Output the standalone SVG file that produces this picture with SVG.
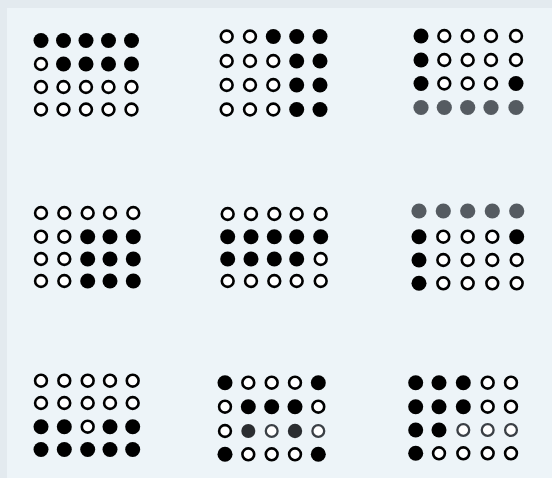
<svg xmlns="http://www.w3.org/2000/svg" width="552" height="478" viewBox="0 0 552 478">
<style>
.f{fill:#000}
.o{fill:#fff;stroke:#000;stroke-width:2.6}
.g{fill:#555b61}
.d{fill:#2a2d30}
.og{fill:#fff;stroke:#3a3f45;stroke-width:2.3}
</style>
<rect x="0" y="0" width="552" height="478" fill="#e3eaef"/>
<rect x="7" y="8" width="545" height="470" fill="#edf4f8"/>
<g id="connectors"/>
<g id="grid1">
<circle class="f" cx="41" cy="40.5" r="7.5"/><circle class="f" cx="63.5" cy="40.5" r="7.5"/><circle class="f" cx="86" cy="40.5" r="7.5"/><circle class="f" cx="108.5" cy="40.5" r="7.5"/><circle class="f" cx="131.5" cy="40.5" r="7.5"/>
<circle class="o" cx="41" cy="64" r="5.9"/><circle class="f" cx="63.5" cy="64" r="7.5"/><circle class="f" cx="86" cy="64" r="7.5"/><circle class="f" cx="108.5" cy="64" r="7.5"/><circle class="f" cx="131.5" cy="64" r="7.5"/>
<circle class="o" cx="41" cy="87" r="5.9"/><circle class="o" cx="63.5" cy="87" r="5.9"/><circle class="o" cx="86" cy="87" r="5.9"/><circle class="o" cx="108.5" cy="87" r="5.9"/><circle class="o" cx="131.5" cy="87" r="5.9"/>
<circle class="o" cx="41" cy="109.5" r="5.9"/><circle class="o" cx="63.5" cy="109.5" r="5.9"/><circle class="o" cx="86" cy="109.5" r="5.9"/><circle class="o" cx="108.5" cy="109.5" r="5.9"/><circle class="o" cx="131.5" cy="109.5" r="5.9"/>
</g>
<g id="grid2">
<circle class="o" cx="226.7" cy="36.5" r="5.9"/><circle class="o" cx="250" cy="36.5" r="5.9"/><circle class="f" cx="273.3" cy="36.5" r="7.5"/><circle class="f" cx="296.7" cy="36.5" r="7.5"/><circle class="f" cx="320" cy="36.5" r="7.5"/>
<circle class="o" cx="226.7" cy="61" r="5.9"/><circle class="o" cx="250" cy="61" r="5.9"/><circle class="o" cx="273.3" cy="61" r="5.9"/><circle class="f" cx="296.7" cy="61" r="7.5"/><circle class="f" cx="320" cy="61" r="7.5"/>
<circle class="o" cx="226.7" cy="85" r="5.9"/><circle class="o" cx="250" cy="85" r="5.9"/><circle class="o" cx="273.3" cy="85" r="5.9"/><circle class="f" cx="296.7" cy="85" r="7.5"/><circle class="f" cx="320" cy="85" r="7.5"/>
<circle class="o" cx="226.7" cy="109.5" r="5.9"/><circle class="o" cx="250" cy="109.5" r="5.9"/><circle class="o" cx="273.3" cy="109.5" r="5.9"/><circle class="f" cx="296.7" cy="109.5" r="7.5"/><circle class="f" cx="320" cy="109.5" r="7.5"/>
</g>
<g id="grid3">
<circle class="f" cx="421" cy="36" r="7.5"/><circle class="o" cx="444.3" cy="36" r="5.9"/><circle class="o" cx="467.7" cy="36" r="5.9"/><circle class="o" cx="491" cy="36" r="5.9"/><circle class="o" cx="516" cy="36" r="5.9"/>
<circle class="f" cx="421" cy="60" r="7.5"/><circle class="o" cx="444.3" cy="60" r="5.9"/><circle class="o" cx="467.7" cy="60" r="5.9"/><circle class="o" cx="491" cy="60" r="5.9"/><circle class="o" cx="516" cy="60" r="5.9"/>
<circle class="f" cx="421" cy="83.5" r="7.5"/><circle class="o" cx="444.3" cy="83.5" r="5.9"/><circle class="o" cx="467.7" cy="83.5" r="5.9"/><circle class="o" cx="491" cy="83.5" r="5.9"/><circle class="f" cx="516" cy="83.5" r="7.5"/>
<circle class="g" cx="421" cy="107.5" r="7.6"/><circle class="g" cx="444.3" cy="107.5" r="7.6"/><circle class="g" cx="467.7" cy="107.5" r="7.6"/><circle class="g" cx="491" cy="107.5" r="7.6"/><circle class="g" cx="516" cy="107.5" r="7.6"/>
</g>
<g id="grid4">
<circle class="o" cx="41" cy="213" r="5.9"/><circle class="o" cx="64.3" cy="213" r="5.9"/><circle class="o" cx="87.7" cy="213" r="5.9"/><circle class="o" cx="110" cy="213" r="5.9"/><circle class="o" cx="133.3" cy="213" r="5.9"/>
<circle class="o" cx="41" cy="236.7" r="5.9"/><circle class="o" cx="64.3" cy="236.7" r="5.9"/><circle class="f" cx="87.7" cy="236.7" r="7.5"/><circle class="f" cx="110" cy="236.7" r="7.5"/><circle class="f" cx="133.3" cy="236.7" r="7.5"/>
<circle class="o" cx="41" cy="259" r="5.9"/><circle class="o" cx="64.3" cy="259" r="5.9"/><circle class="f" cx="87.7" cy="259" r="7.5"/><circle class="f" cx="110" cy="259" r="7.5"/><circle class="f" cx="133.3" cy="259" r="7.5"/>
<circle class="o" cx="41" cy="281" r="5.9"/><circle class="o" cx="64.3" cy="281" r="5.9"/><circle class="f" cx="87.7" cy="281" r="7.5"/><circle class="f" cx="110" cy="281" r="7.5"/><circle class="f" cx="133.3" cy="281" r="7.5"/>
</g>
<g id="grid5">
<circle class="o" cx="227.7" cy="214" r="5.9"/><circle class="o" cx="251" cy="214" r="5.9"/><circle class="o" cx="274.3" cy="214" r="5.9"/><circle class="o" cx="296.7" cy="214" r="5.9"/><circle class="o" cx="320.7" cy="214" r="5.9"/>
<circle class="f" cx="227.7" cy="236.7" r="7.5"/><circle class="f" cx="251" cy="236.7" r="7.5"/><circle class="f" cx="274.3" cy="236.7" r="7.5"/><circle class="f" cx="296.7" cy="236.7" r="7.5"/><circle class="f" cx="320.7" cy="236.7" r="7.5"/>
<circle class="f" cx="227.7" cy="259" r="7.5"/><circle class="f" cx="251" cy="259" r="7.5"/><circle class="f" cx="274.3" cy="259" r="7.5"/><circle class="f" cx="296.7" cy="259" r="7.5"/><circle class="o" cx="320.7" cy="259" r="5.9"/>
<circle class="o" cx="227.7" cy="281" r="5.9"/><circle class="o" cx="251" cy="281" r="5.9"/><circle class="o" cx="274.3" cy="281" r="5.9"/><circle class="o" cx="296.7" cy="281" r="5.9"/><circle class="o" cx="320.7" cy="281" r="5.9"/>
</g>
<g id="grid6">
<circle class="g" cx="419" cy="211" r="7.6"/><circle class="g" cx="443.3" cy="211" r="7.6"/><circle class="g" cx="467.7" cy="211" r="7.6"/><circle class="g" cx="492.3" cy="211" r="7.6"/><circle class="g" cx="516.7" cy="211" r="7.6"/>
<circle class="f" cx="419" cy="236.7" r="7.5"/><circle class="o" cx="443.3" cy="236.7" r="5.9"/><circle class="o" cx="467.7" cy="236.7" r="5.9"/><circle class="o" cx="492.3" cy="236.7" r="5.9"/><circle class="f" cx="516.7" cy="236.7" r="7.5"/>
<circle class="f" cx="419" cy="260" r="7.5"/><circle class="o" cx="443.3" cy="260" r="5.9"/><circle class="o" cx="467.7" cy="260" r="5.9"/><circle class="o" cx="492.3" cy="260" r="5.9"/><circle class="o" cx="516.7" cy="260" r="5.9"/>
<circle class="f" cx="419" cy="283.3" r="7.5"/><circle class="o" cx="443.3" cy="283.3" r="5.9"/><circle class="o" cx="467.7" cy="283.3" r="5.9"/><circle class="o" cx="492.3" cy="283.3" r="5.9"/><circle class="o" cx="516.7" cy="283.3" r="5.9"/>
</g>
<g id="grid7">
<circle class="o" cx="41" cy="380.7" r="5.9"/><circle class="o" cx="64.3" cy="380.7" r="5.9"/><circle class="o" cx="87.7" cy="380.7" r="5.9"/><circle class="o" cx="110" cy="380.7" r="5.9"/><circle class="o" cx="132.7" cy="380.7" r="5.9"/>
<circle class="o" cx="41" cy="403" r="5.9"/><circle class="o" cx="64.3" cy="403" r="5.9"/><circle class="o" cx="87.7" cy="403" r="5.9"/><circle class="o" cx="110" cy="403" r="5.9"/><circle class="o" cx="132.7" cy="403" r="5.9"/>
<circle class="f" cx="41" cy="426.7" r="7.5"/><circle class="f" cx="64.3" cy="426.7" r="7.5"/><circle class="o" cx="87.7" cy="426.7" r="5.9"/><circle class="f" cx="110" cy="426.7" r="7.5"/><circle class="f" cx="132.7" cy="426.7" r="7.5"/>
<circle class="f" cx="41" cy="449.5" r="7.5"/><circle class="f" cx="64.3" cy="449.5" r="7.5"/><circle class="f" cx="87.7" cy="449.5" r="7.5"/><circle class="f" cx="110" cy="449.5" r="7.5"/><circle class="f" cx="132.7" cy="449.5" r="7.5"/>
</g>
<g id="grid8">
<circle class="f" cx="225" cy="382.7" r="7.5"/><circle class="o" cx="248.3" cy="382.7" r="5.9"/><circle class="o" cx="271.7" cy="382.7" r="5.9"/><circle class="o" cx="295" cy="382.7" r="5.9"/><circle class="f" cx="318.3" cy="382.7" r="7.5"/>
<circle class="o" cx="225" cy="406.7" r="5.9"/><circle class="f" cx="248.3" cy="406.7" r="7.5"/><circle class="f" cx="271.7" cy="406.7" r="7.5"/><circle class="f" cx="295" cy="406.7" r="7.5"/><circle class="o" cx="318.3" cy="406.7" r="5.9"/>
<circle class="o" cx="225" cy="431" r="5.9"/><circle class="d" cx="248.3" cy="431" r="7"/><circle class="og" cx="271.7" cy="431" r="5.9"/><circle class="d" cx="295" cy="431" r="7.2"/><circle class="og" cx="318.3" cy="431" r="5.9"/>
<circle class="f" cx="225" cy="454.3" r="7.5"/><circle class="o" cx="248.3" cy="454.3" r="5.9"/><circle class="o" cx="271.7" cy="454.3" r="5.9"/><circle class="o" cx="295" cy="454.3" r="5.9"/><circle class="f" cx="318.3" cy="454.3" r="7.5"/>
</g>
<g id="grid9">
<circle class="f" cx="415.7" cy="382.7" r="7.5"/><circle class="f" cx="439" cy="382.7" r="7.5"/><circle class="f" cx="463.3" cy="382.7" r="7.5"/><circle class="o" cx="487.7" cy="382.7" r="5.9"/><circle class="o" cx="511" cy="382.7" r="5.9"/>
<circle class="f" cx="415.7" cy="406.7" r="7.5"/><circle class="f" cx="439" cy="406.7" r="7.5"/><circle class="f" cx="463.3" cy="406.7" r="7.5"/><circle class="o" cx="487.7" cy="406.7" r="5.9"/><circle class="o" cx="511" cy="406.7" r="5.9"/>
<circle class="f" cx="415.7" cy="430" r="7.5"/><circle class="f" cx="439" cy="430" r="7.5"/><circle class="og" cx="463.3" cy="430" r="5.9"/><circle class="og" cx="487.7" cy="430" r="5.9"/><circle class="og" cx="511" cy="430" r="5.9"/>
<circle class="f" cx="415.7" cy="453.3" r="7.5"/><circle class="o" cx="439" cy="453.3" r="5.9"/><circle class="o" cx="463.3" cy="453.3" r="5.9"/><circle class="o" cx="487.7" cy="453.3" r="5.9"/><circle class="o" cx="511" cy="453.3" r="5.9"/>
</g>
</svg>
